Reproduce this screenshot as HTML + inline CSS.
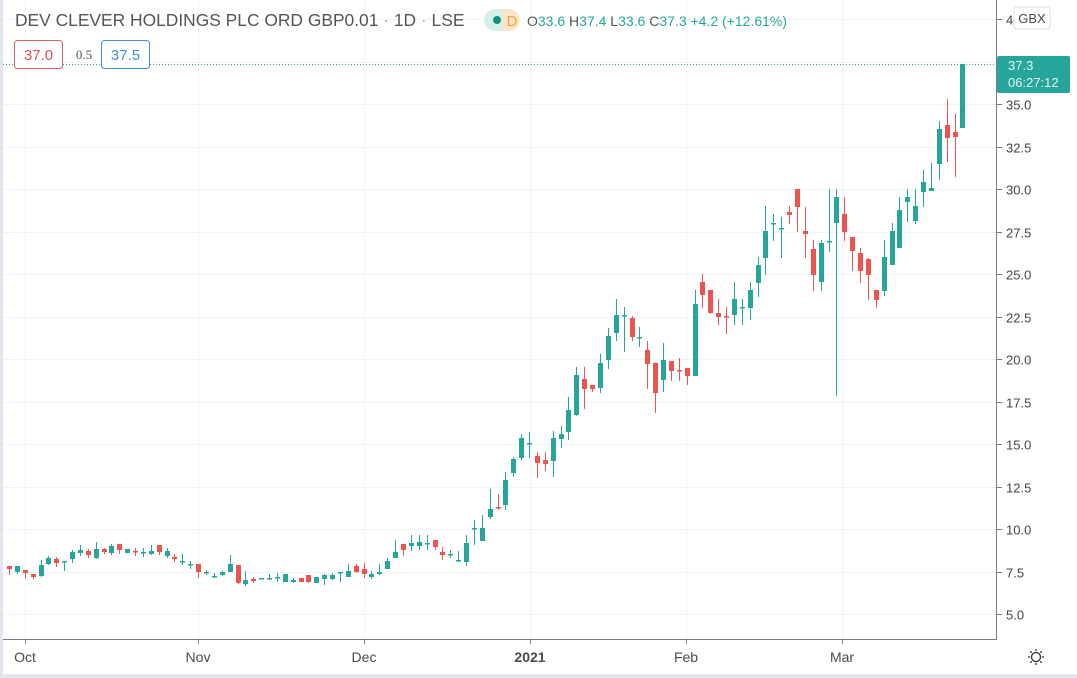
<!DOCTYPE html>
<html><head><meta charset="utf-8"><style>
html,body{margin:0;padding:0;width:1077px;height:678px;overflow:hidden;background:#fff;font-family:"Liberation Sans",sans-serif}
</style></head><body>
<svg id="s" width="1077" height="678" xmlns="http://www.w3.org/2000/svg" style="position:absolute;left:0;top:0">
<rect x="0" y="0" width="3" height="678" fill="#e3e6ee"/>
<rect x="0" y="674" width="1077" height="4" fill="#e3e6ee"/>
<g id="grid" stroke="#f0f3fa" stroke-width="1"></g>
<line x1="3" y1="64.5" x2="996" y2="64.5" stroke="#26a69a" stroke-dasharray="1,2" stroke-width="1"/>
<g id="candles"></g>
<line x1="996.5" y1="0" x2="996.5" y2="639" stroke="#787b86" stroke-width="1"/>
<line x1="3" y1="639.5" x2="997" y2="639.5" stroke="#787b86" stroke-width="1"/>
<g id="ticks" stroke="#787b86"></g>
<g font-size="13" fill="#444" id="plabels"></g>
<rect x="1014" y="7" width="36" height="22" rx="3" fill="#fff" stroke="#d8dbe3"/>
<text x="1032" y="23" font-size="13" fill="#4a4a4a" text-anchor="middle">GBX</text>
<rect x="997" y="56" width="73" height="37" rx="2" fill="#26a69a"/>
<text x="1008" y="70" font-size="13" fill="#e6f6f4">37.3</text>
<text x="1008" y="87" font-size="13" fill="#e6f6f4">06:27:12</text>
<g font-size="14" fill="#4a4a4a" text-anchor="middle">
<text x="25" y="662">Oct</text><text x="198" y="662">Nov</text><text x="364" y="662">Dec</text>
<text x="530" y="662" font-weight="bold">2021</text><text x="686" y="662">Feb</text><text x="842" y="662">Mar</text>
</g>
<g transform="translate(1036,657)" stroke="#333" fill="none" stroke-width="1.3">
<circle r="4.5"/>
<path d="M0,-8V-6M0,8V6M-8,0H-6M8,0H6M-5.7,-5.7L-4.2,-4.2M5.7,5.7L4.2,4.2M-5.7,5.7L-4.2,4.2M5.7,-5.7L4.2,-4.2"/>
</g>
<text x="15" y="26" font-size="17.4" fill="#555">DEV CLEVER HOLDINGS PLC ORD GBP0.01 <tspan fill="#aaa">·</tspan> 1D <tspan fill="#aaa">·</tspan> LSE</text>
<rect x="484" y="9" width="36" height="22" rx="11" fill="#fde6c8"/>
<path d="M495,9 H502 V31 H495 A11,11 0 0 1 495,9Z" fill="#d5efeb"/>
<circle cx="497" cy="20" r="4" fill="#0f8f7f"/>
<text x="512" y="26" font-size="15" fill="#f0a040" text-anchor="middle">D</text>
<text x="527" y="26" font-size="14" fill="#26a69a"><tspan fill="#555">O</tspan>33.6 <tspan fill="#555">H</tspan>37.4 <tspan fill="#555">L</tspan>33.6 <tspan fill="#555">C</tspan>37.3 +4.2 (+12.61%)</text>
<rect x="14.5" y="40.5" width="48" height="28" rx="3" fill="#fff" stroke="#e06060"/>
<text x="38.5" y="60" font-size="15" fill="#e05050" text-anchor="middle">37.0</text>
<text x="84" y="59" font-size="13" fill="#555" text-anchor="middle" font-family="Liberation Serif,serif">0.5</text>
<rect x="101.5" y="40.5" width="48" height="28" rx="3" fill="#fff" stroke="#3d8fd8"/>
<text x="125.5" y="60" font-size="15" fill="#3d8fd8" text-anchor="middle">37.5</text>
</svg>
<script>
var NS="http://www.w3.org/2000/svg";
function el(p,t,a){var e=document.createElementNS(NS,t);for(var k in a)e.setAttribute(k,a[k]);p.appendChild(e);return e;}
var g=document.getElementById("grid"),tk=document.getElementById("ticks"),pl=document.getElementById("plabels");
var labs=["40","37.5","35.0","32.5","30.0","27.5","25.0","22.5","20.0","17.5","15.0","12.5","10.0","7.5","5.0"];
for(var k=0;k<15;k++){var y=Math.round(19+k*42.5)+0.5;el(g,"line",{x1:3,y1:y,x2:996,y2:y});
 if(k==0||k>=2){el(tk,"line",{x1:997,y1:y,x2:1002,y2:y});var t=el(pl,"text",{x:1006,y:y+5});t.textContent=labs[k]=="40"?"4":labs[k];}}
[25,198,364,530,686,842].forEach(function(x){el(g,"line",{x1:x+0.5,y1:0,x2:x+0.5,y2:639});el(tk,"line",{x1:x+0.5,y1:639,x2:x+0.5,y2:644});});
var d=[
[566,569,566,575,'r'],[566,572,566,574,'g'],[570,573,570,578,'r'],[574,577,574,579,'r'],[565,576,560,577,'g'],[558,564,556,565,'g'],[559,563,557,567,'r'],[561,562,561,571,'g'],[552,559,550,563,'g'],[550,553,545,556,'g'],
[551,555,549,558,'r'],[549,558,542,559,'g'],[549,552,548,554,'r'],[546,553,544,555,'g'],[544,550,544,554,'r'],[549,553,549,553,'g'],[551,552,548,556,'r'],[552,553,548,557,'g'],[551,554,545,555,'g'],[545,552,545,555,'r'],
[551,556,548,558,'g'],[557,559,554,562,'r'],[561,562,554,565,'g'],[564,565,561,569,'g'],[564,572,564,578,'r'],[572,573,570,575,'g'],[576,577,573,578,'g'],[572,575,571,576,'g'],[564,572,555,572,'g'],[565,583,565,584,'r'],
[580,584,571,586,'g'],[579,581,577,583,'r'],[578,579,578,579,'g'],[578,579,574,580,'g'],[577,578,573,582,'g'],[574,582,574,582,'g'],[580,582,578,583,'g'],[578,582,578,582,'r'],[575,582,575,583,'r'],[577,583,577,583,'g'],
[575,579,574,585,'g'],[575,579,573,580,'g'],[572,573,572,582,'g'],[571,577,564,577,'g'],[566,572,564,573,'r'],[569,574,563,578,'r'],[574,577,571,579,'g'],[572,574,564,575,'g'],[561,569,558,569,'g'],[552,558,540,558,'g'],
[544,550,544,556,'r'],[543,546,535,551,'g'],[542,546,535,550,'g'],[543,544,535,550,'g'],[540,547,540,550,'r'],[552,555,547,560,'r'],[554,555,550,558,'g'],[560,561,551,562,'g'],[543,562,535,566,'g'],
[528,529,520,545,'g'],[528,541,515,541,'g'],[509,517,489,519,'g'],[507,508,494,510,'r'],[480,505,472,510,'g'],[459,473,457,477,'g'],[438,458,434,460,'g'],[443,444,432,458,'g'],[456,463,452,478,'r'],[460,464,452,471,'r'],
[438,461,431,477,'g'],[434,439,426,448,'g'],[410,432,397,440,'g'],[375,415,367,416,'g'],[379,389,367,409,'r'],[385,389,385,392,'r'],[363,388,354,393,'g'],[336,360,328,369,'g'],[315,333,299,341,'g'],[315,316,307,352,'g'],
[318,337,316,341,'r'],[337,338,327,347,'g'],[350,364,341,389,'r'],[363,393,363,413,'r'],[360,380,343,392,'g'],[361,371,361,381,'r'],[370,371,358,381,'r'],[368,376,368,385,'r'],
[304,376,290,376,'g'],[282,295,274,308,'r'],[290,313,290,314,'r'],[313,317,299,325,'r'],[316,317,307,334,'r'],[299,315,282,325,'g'],[307,308,299,325,'g'],[290,308,282,320,'g'],[265,283,257,297,'g'],[231,258,206,275,'g'],
[223,224,214,241,'g'],[228,229,217,258,'g'],[212,215,206,224,'r'],[189,207,189,232,'r'],[231,234,207,258,'r'],[249,275,240,291,'r'],[243,282,240,291,'g'],[241,242,189,252,'g'],[197,223,189,396,'g'],[214,232,197,241,'r'],
[237,251,237,271,'r'],[253,271,248,283,'r'],[259,275,258,300,'r'],[290,300,290,308,'r'],[257,291,240,296,'g'],[231,265,223,265,'g'],[210,248,197,248,'g'],[197,202,189,222,'g'],[206,221,189,224,'g'],[182,192,170,207,'g'],
[188,191,163,191,'g'],[129,164,121,180,'g'],[125,138,99,162,'r'],[132,137,114,177,'r'],[64,128,64,128,'g']];
var c=document.getElementById("candles");
d.forEach(function(a,i){var x=Math.round(9+i*7.88);var col=a[4]=='r'?'#ef5350':'#26a69a';
 el(c,"rect",{x:x,y:a[2],width:1,height:Math.max(1,a[3]-a[2]),fill:col});
 el(c,"rect",{x:x-2,y:a[0],width:5,height:Math.max(1.5,a[1]-a[0]),fill:col});});
</script>
</body></html>
